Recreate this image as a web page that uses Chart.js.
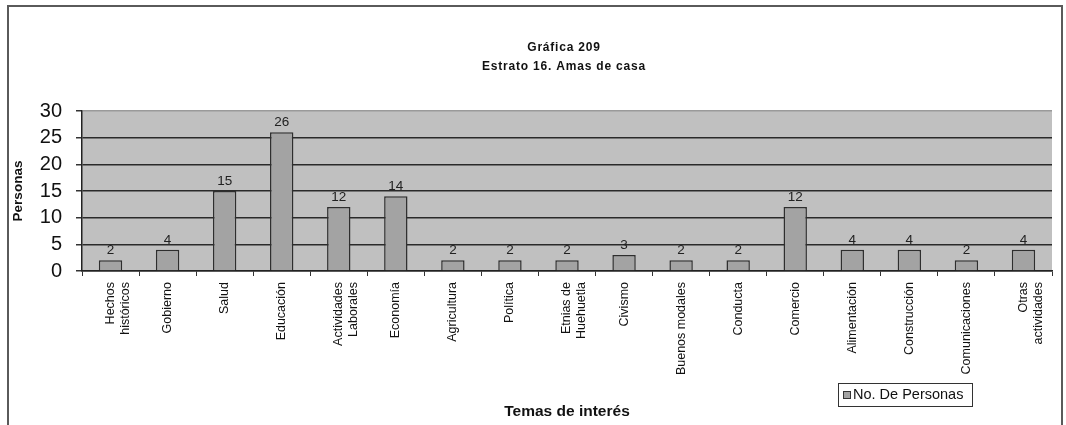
<!DOCTYPE html>
<html>
<head>
<meta charset="utf-8">
<script src="https://cdn.jsdelivr.net/npm/chart.js@4/dist/chart.umd.min.js"></script>
<style>
    html, body { margin: 0; padding: 0; background: #fff; }
    #wrap { width: 1066px; height: 425px; position: relative; }
</style>
</head>
<body>
<div id="wrap"><canvas id="temasChart" width="1066" height="425"></canvas></div>
<script>
const temas = [
    ["Hechos", "históricos"], "Gobierno", "Salud", "Educación",
    ["Actividades", "Laborales"], "Economía", "Agricultura", "Política",
    ["Etnias de", "Huehuetla"], "Civismo", "Buenos modales", "Conducta",
    "Comercio", "Alimentación", "Construcción", "Comunicaciones",
    ["Otras", "actividades"]
];
const personas = [2, 4, 15, 26, 12, 14, 2, 2, 2, 3, 2, 2, 12, 4, 4, 2, 4];
const yTicks = [0, 5, 10, 15, 20, 25, 30];
const tituloLineas = ["Gráfica 209", "Estrato 16. Amas de casa"];

const FONT = "Arial, 'Liberation Sans', sans-serif";

// gray plot background plus the outer frame
const fondo = {
    id: "fondo",
    beforeDraw(chart) {
        const { ctx, chartArea: a } = chart;
        ctx.save();
        ctx.strokeStyle = "#5a5a5a";
        ctx.lineWidth = 2;
        ctx.strokeRect(8, 6, 1054, 440);
        ctx.fillStyle = "#c0c0c0";
        ctx.fillRect(a.left, a.top, a.right - a.left, a.bottom - a.top);
        ctx.restore();
    }
};

// title lines, value labels over each bar, legend box
const extras = {
    id: "extras",
    afterDraw(chart) {
        const { ctx, chartArea: a } = chart;
        ctx.save();
        ctx.fillStyle = "#111";
        ctx.textAlign = "center";
        ctx.textBaseline = "middle";
        ctx.font = "bold 12px " + FONT;
        ctx.letterSpacing = "0.8px";
        const cx = (a.left + a.right) / 2 - 3;
        ctx.fillText(tituloLineas[0], cx, 48);
        ctx.fillText(tituloLineas[1], cx, 67);
        ctx.letterSpacing = "0px";

        const meta = chart.getDatasetMeta(0);
        ctx.font = "13.5px " + FONT;
        ctx.fillStyle = "#222";
        ctx.textBaseline = "bottom";
        meta.data.forEach((bar, i) => {
            ctx.fillText(String(personas[i]), bar.x, bar.y - 3);
        });

        const ds = chart.data.datasets[0];
        ctx.fillStyle = "#fff";
        ctx.fillRect(838, 383, 134, 23);
        ctx.strokeStyle = "#333";
        ctx.lineWidth = 1;
        ctx.strokeRect(838.5, 383.5, 134, 23);
        ctx.fillStyle = ds.backgroundColor;
        ctx.fillRect(843, 391, 7, 7);
        ctx.strokeStyle = "#333";
        ctx.strokeRect(843.5, 391.5, 7, 7);
        ctx.fillStyle = "#111";
        ctx.textAlign = "left";
        ctx.textBaseline = "middle";
        ctx.font = "14.5px " + FONT;
        ctx.fillText(ds.label, 853, 395);
        ctx.restore();
    }
};

new Chart(document.getElementById("temasChart"), {
    type: "bar",
    data: {
        labels: temas,
        datasets: [{
            label: "No. De Personas",
            data: personas,
            backgroundColor: "#a3a3a3",
            borderColor: "#2e2e2e",
            borderWidth: 1.5,
            categoryPercentage: 1,
            barPercentage: 0.41
        }]
    },
    options: {
        responsive: false,
        animation: false,
        layout: { padding: { left: 10, right: 14, top: 111, bottom: 0 } },
        plugins: {
            legend: { display: false },
            tooltip: { enabled: false }
        },
        scales: {
            x: {
                afterFit(scale) { scale.height = 154; },
                grid: {
                    offset: true,
                    drawOnChartArea: false,
                    drawTicks: true,
                    tickLength: 5,
                    color: "#333"
                },
                border: { color: "#222", width: 1.5 },
                ticks: {
                    color: "#111",
                    font: { size: 12.5, family: FONT },
                    minRotation: 90,
                    maxRotation: 90,
                    autoSkip: false,
                    padding: 6
                },
                title: {
                    display: true,
                    text: "Temas de interés",
                    color: "#111",
                    font: { size: 15.5, weight: "bold", family: FONT },
                    padding: { top: 0, bottom: 4 }
                }
            },
            y: {
                min: 0,
                max: 30,
                afterFit(scale) { scale.width = 72; },
                afterBuildTicks(scale) {
                    scale.ticks = yTicks.map(v => ({ value: v }));
                },
                grid: {
                    color: ctx => ctx.tick && ctx.tick.value === 30 ? "#9a9a9a" : "#2a2a2a",
                    lineWidth: 1.5,
                    tickColor: "#333",
                    tickLength: 6
                },
                border: { color: "#222", width: 1.5 },
                ticks: {
                    color: "#111",
                    font: { size: 20, family: FONT, lineHeight: 1 },
                    autoSkip: false,
                    padding: 14
                },
                title: {
                    display: true,
                    text: "Personas",
                    color: "#111",
                    font: { size: 13.5, weight: "bold", family: FONT },
                    padding: { top: 0, bottom: 0 }
                }
            }
        }
    },
    plugins: [fondo, extras]
});
</script>
</body>
</html>
